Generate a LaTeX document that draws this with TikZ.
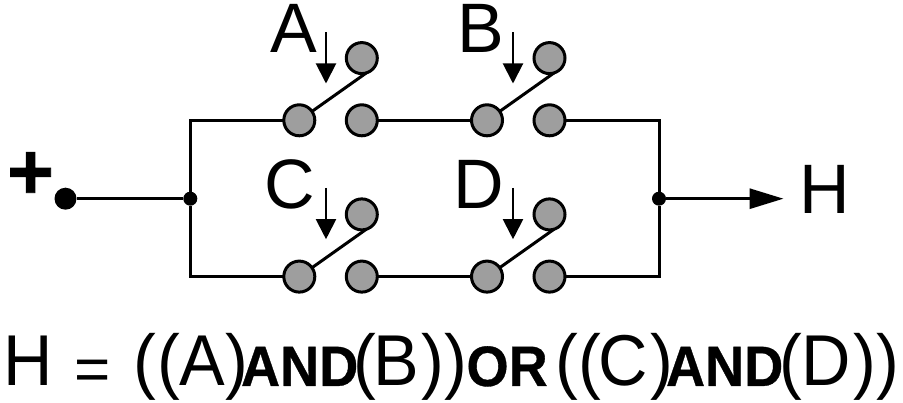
\documentclass[tikz,border=0pt]{standalone}
\usepackage{fontspec}
\setmainfont{Liberation Sans}
\newfontfamily\cbold[FakeBold=0.6,FakeStretch=0.95]{Liberation Sans Bold}
\newfontfamily\pbold[FakeBold=0.8]{Liberation Sans Bold}
\newfontfamily\cnarrow[FakeStretch=0.95]{Liberation Sans}
\usetikzlibrary{arrows.meta}
\tikzset{
  wire/.style={line width=3pt,black},
  contact/.style={circle,draw=black,line width=3pt,fill=black!38,minimum size=31pt,inner sep=0pt,outer sep=0pt},
  dotnode/.style={circle,fill=black,inner sep=0pt,outer sep=0pt,minimum size=#1},
  pressarrow/.style={line width=2pt,-{Triangle[length=20pt,width=20pt]}},
  outarrow/.style={line width=3pt,-{Triangle[length=34pt,width=20pt]}},
  labeltext/.style={anchor=base west,inner sep=0pt,outer sep=0pt,font=\fontsize{70}{70}\selectfont},
  bigtext/.style={anchor=base west,inner sep=0pt,outer sep=0pt,font=\fontsize{72}{72}\cnarrow},
  boldtext/.style={anchor=base west,inner sep=0pt,outer sep=0pt,font=\fontsize{57}{57}\cbold},
}
\begin{document}
\begin{tikzpicture}[x=1pt,y=-1pt]
\useasboundingbox (0,0) rectangle (903,403);
% contacts
\foreach \n/\x/\y in {A/299.3/120.3,B/487/120.3,C/299.3/276.6,D/487/276.6}{
  \pgfmathsetmacro\xr{\x+62.5}\pgfmathsetmacro\yu{\y-62.2}
  \node[contact] (\n1) at (\x,\y) {};
  \node[contact] (\n2) at (\xr,\y) {};
  \node[contact] (\n3) at (\xr,\yu) {};
  \draw[wire] (\n1.35) -- (\n3.-73);
}
\node[dotnode=22pt] (P) at (65.5,198.7) {};
\node[dotnode=14pt] (J1) at (190.3,198.7) {};
\node[dotnode=14pt] (J2) at (659,198.7) {};
\coordinate (Hend) at (783.5,198.7);
\draw[wire] (P) -- (J1);
\draw[wire] (A1) -| (J1) |- (C1);
\draw[wire] (A2) -- (B1);
\draw[wire] (C2) -- (D1);
\draw[wire] (B2) -| (J2) |- (D2);
\draw[outarrow] (J2) -- (Hend);
% pressing arrows
\foreach \n/\x/\y in {a/326/32.3,b/513/32.3,c/326/188,d/513/188}{
  \pgfmathsetmacro\ye{\y+51.2}
  \coordinate (\n s) at (\x,\y);
  \coordinate (\n e) at (\x,\ye);
  \draw[pressarrow] (\n s) -- (\n e);
}
\node[labeltext] (LA) at (270,52.7) {A};
\node[labeltext] (LB) at (457,52.7) {B};
\node[labeltext] (LC) at (264.5,208.7) {C};
\node[labeltext] (LD) at (453.5,208.2) {D};
\node[labeltext] (LH) at (799,214) {H};
\node[anchor=base west,inner sep=0pt,font=\fontsize{80}{80}\pbold] (plus) at (7,199) {+};
% formula
\node[bigtext] (f1) at (4,386) {H};
\node[anchor=base west,inner sep=0pt,font=\fontsize{62}{62}\selectfont] (f2) at (74,390.5) {=};
\node[bigtext] (f3) at (133,386) {(};
\node[bigtext] (f4) at (157,386) {(};
\node[bigtext] (f5) at (179,386) {A};
\node[bigtext] (f6) at (225,386) {)};
\node[boldtext] (f7) at (241,386) {AND};
\node[bigtext] (f8) at (353,386) {(};
\node[bigtext] (f9) at (373,386) {B};
\node[bigtext] (f10) at (421,386) {)};
\node[bigtext] (f11) at (444,386) {)};
\node[boldtext] (f12) at (466.5,386) {OR};
\node[bigtext] (f13) at (555,386) {(};
\node[bigtext] (f14) at (578,386) {(};
\node[bigtext] (f15) at (598,386) {C};
\node[bigtext] (f16) at (650,386) {)};
\node[boldtext] (f17) at (666,386) {AND};
\node[bigtext] (f18) at (779,386) {(};
\node[bigtext] (f19) at (801.5,386) {D};
\node[bigtext] (f20) at (853,386) {)};
\node[bigtext] (f21) at (876,386) {)};
\end{tikzpicture}
\end{document}
